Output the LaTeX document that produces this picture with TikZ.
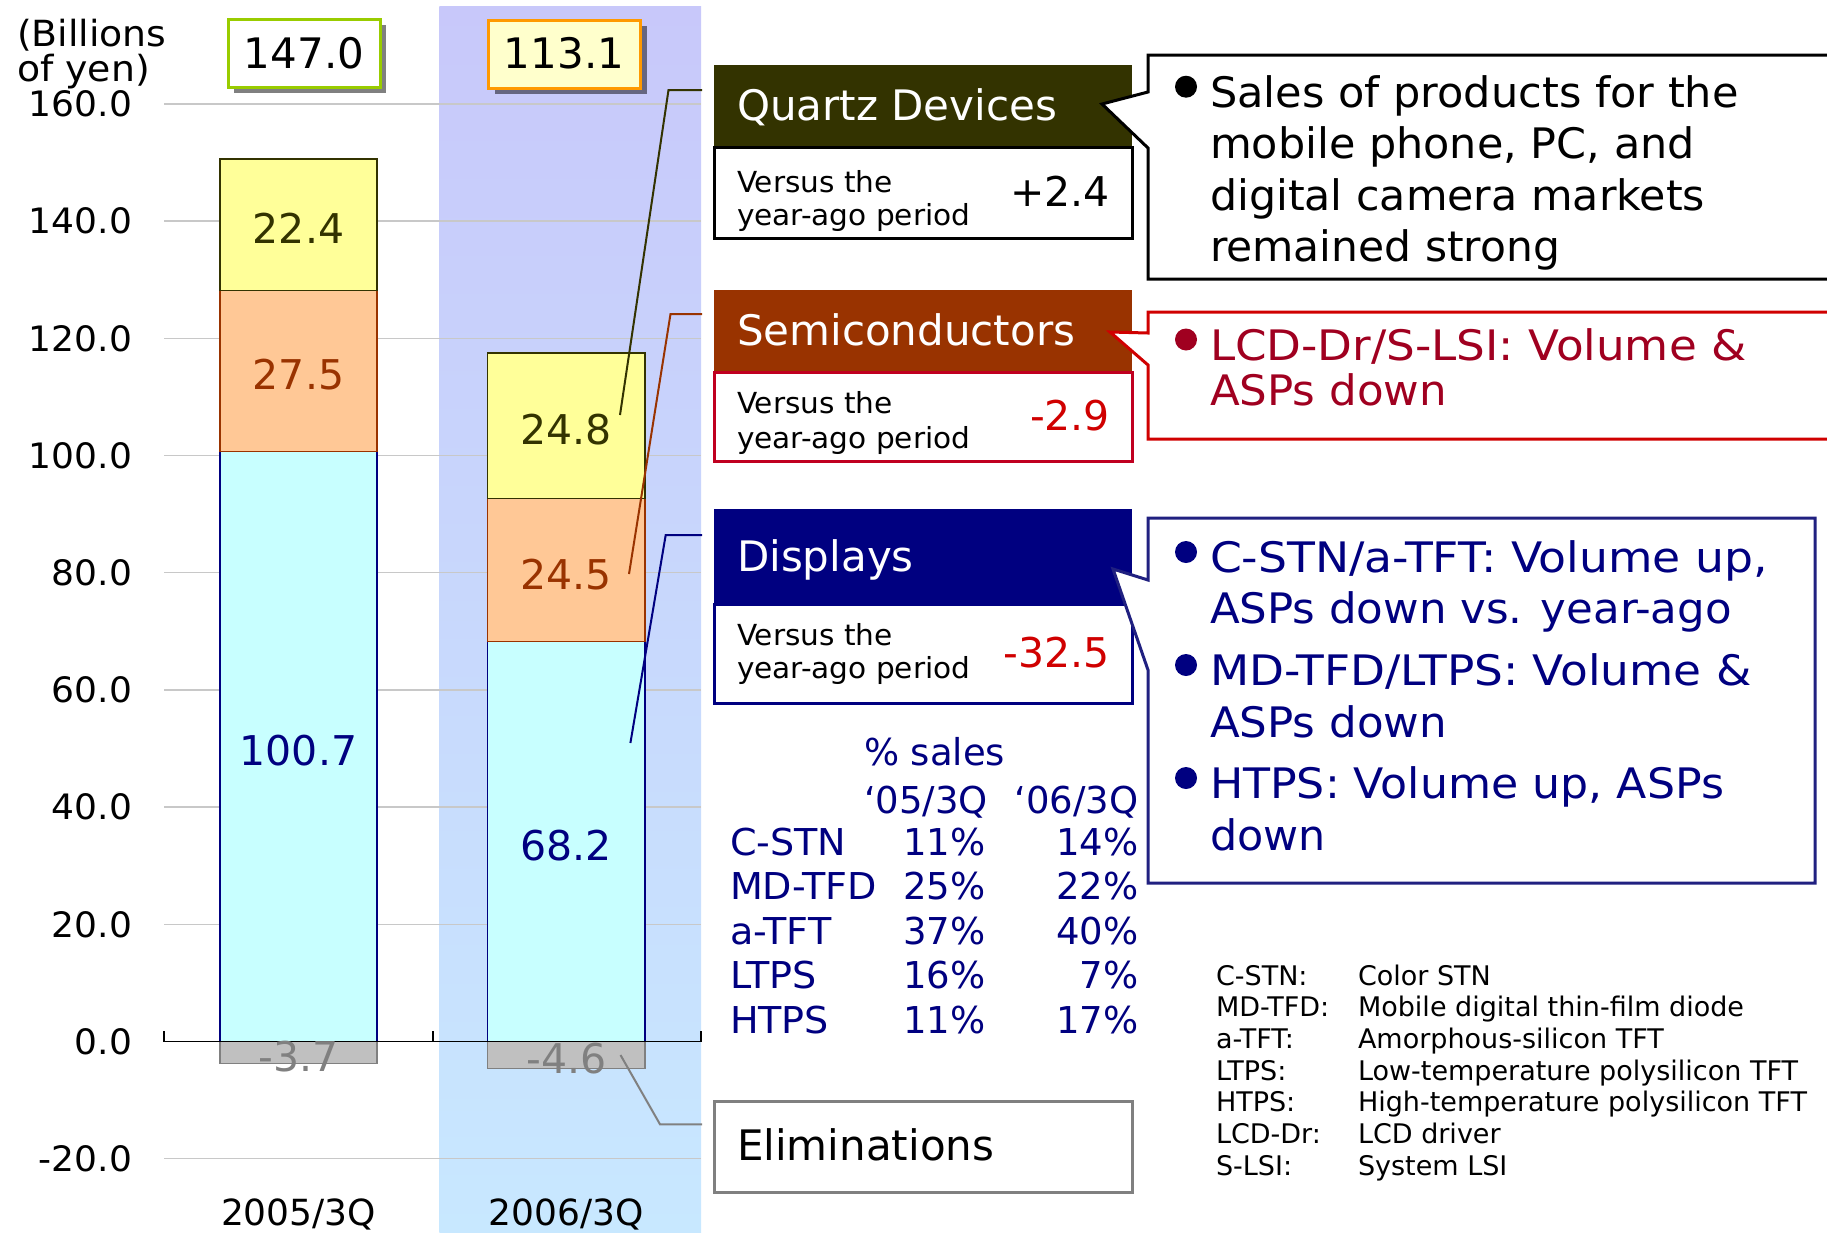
\documentclass[tikz,border=0pt]{standalone}
\usepackage{fontspec}
\usepackage{graphicx}
\setmainfont{DejaVu Sans}
\usetikzlibrary{calc}
\definecolor{quartz}{HTML}{333300}
\definecolor{semi}{HTML}{993300}
\definecolor{disp}{HTML}{000080}
\definecolor{yel}{HTML}{FFFF99}
\definecolor{ora}{HTML}{FFC896}
\definecolor{cya}{HTML}{C8FFFF}
\definecolor{gryfill}{HTML}{C0C0C0}
\definecolor{gryline}{HTML}{808080}
\definecolor{gridc}{HTML}{C8C8C8}
\definecolor{redv}{HTML}{D00000}
\definecolor{lcd}{HTML}{A00020}
\definecolor{semibox}{HTML}{C00020}
\definecolor{calred}{HTML}{D00000}
\definecolor{calblue}{HTML}{202080}
\definecolor{bandtop}{RGB}{200,200,250}
\definecolor{bandbot}{RGB}{200,232,255}
\definecolor{greenb}{HTML}{99CC00}
\definecolor{orangeb}{HTML}{FF9900}
\definecolor{paley}{HTML}{FFFFCC}
\definecolor{shadowa}{HTML}{808080}
\definecolor{shadowb}{HTML}{666680}
\newcommand\fs[1]{\fontsize{#1}{#1}\selectfont}
\newcommand\hwide[2]{\scalebox{#1}[1]{#2}}
\begin{document}
\begin{tikzpicture}[x=1pt,y=-1pt,
  txt/.style={inner sep=0pt,outer sep=0pt},
  gridln/.style={draw=gridc,line width=1.5},
  lead/.style={line width=2},
  barbox/.style={line width=1.2},
  panel/.style={line width=3},
  bul/.style={circle,inner sep=0pt,minimum size=22pt}]
\useasboundingbox (0,0) rectangle (1827,1232);
\fill[white] (0,0) rectangle (1827,1232);
% highlighted band
\shade[top color=bandtop,bottom color=bandbot] (439.4,6.7) rectangle (701,1232);
% gridlines
\foreach \v in {-20,20,40,60,80,100,120,140,160}
  \draw[gridln] (164,{1041.5-5.86*\v}) -- (701,{1041.5-5.86*\v});
% bars 2005/3Q
\draw[barbox,draw=disp,fill=cya] (220,1041.5) rectangle (377,451.4);
\draw[barbox,draw=semi,fill=ora] (220,451.4) rectangle (377,290.2);
\draw[barbox,draw=quartz,fill=yel] (220,290.2) rectangle (377,159.0);
\draw[barbox,draw=gryline,fill=gryfill] (220,1041.5) rectangle (377,1063.2);
% bars 2006/3Q
\draw[barbox,draw=disp,fill=cya] (487.6,1041.5) rectangle (645,641.8);
\draw[barbox,draw=semi,fill=ora] (487.6,641.8) rectangle (645,498.3);
\draw[barbox,draw=quartz,fill=yel] (487.6,498.3) rectangle (645,352.9);
\draw[barbox,draw=gryline,fill=gryfill] (487.6,1041.5) rectangle (645,1068.5);
% axis
\draw[line width=1.5] (164,1041.5) -- (701,1041.5);
\foreach \x in {164,433,701} \draw[line width=1.5] (\x,1041.5) -- (\x,1031);
% y labels
\foreach \v/\t in {160/160.0,140/140.0,120/120.0,100/100.0,80/80.0,60/60.0,40/40.0,20/20.0,0/0.0,-20/-20.0}
  \node[txt,anchor=base east] (yl\v) at (132,{1041.5-5.86*\v+12.7}) {\fs{35}\hwide{1.03}{\t}};
\node[txt,anchor=base west] (unit1) at (17,46.7) {\fs{36}\hwide{1.05}{(Billions}};
\node[txt,anchor=base west] (unit2) at (17,81.7) {\fs{36}\hwide{1.05}{of yen)}};
% bar labels
\node[txt,anchor=base,text=quartz] (v224) at (298.5,243.6) {\fs{41}22.4};
\node[txt,anchor=base,text=semi] (v275) at (298.5,389.8) {\fs{41}27.5};
\node[txt,anchor=base,text=disp] (v1007) at (298.5,765.5) {\fs{41}100.7};
\node[txt,anchor=base,text=gryline] (v37) at (298.5,1071) {\fs{41}-3.7};
\node[txt,anchor=base,text=quartz] (v248) at (566.3,444.6) {\fs{41}24.8};
\node[txt,anchor=base,text=semi] (v245) at (566.3,589) {\fs{41}24.5};
\node[txt,anchor=base,text=disp] (v682) at (566.3,860.7) {\fs{41}68.2};
\node[txt,anchor=base,text=gryline] (v46) at (566.3,1073) {\fs{41}-4.6};
% category labels
\node[txt,anchor=base] (c05) at (298.5,1225) {\fs{36}2005/3Q};
\node[txt,anchor=base] (c06) at (566.3,1225) {\fs{36}2006/3Q};
% total boxes
\fill[shadowa] (234,25) rectangle (386,93);
\draw[line width=3,draw=greenb,fill=white] (228,19.5) rectangle (380,87.5);
\node[txt,anchor=base] (t147) at (304,68.5) {\fs{42}147.0};
\fill[shadowb] (494.5,26) rectangle (646.5,94);
\draw[line width=3,draw=orangeb,fill=paley] (488,20.5) rectangle (640.5,88.3);
\node[txt,anchor=base] (t113) at (564,68.5) {\fs{42}113.1};
% leader lines
\coordinate (qa) at (620,415); \coordinate (qb) at (668.5,90); \coordinate (qc) at (702,90);
\coordinate (sa) at (629,574); \coordinate (sb) at (670.5,314); \coordinate (sc) at (702,314);
\coordinate (da) at (630.4,743); \coordinate (db) at (665.7,535); \coordinate (dc) at (702,535);
\coordinate (ea) at (620.5,1055); \coordinate (eb) at (660,1124.3); \coordinate (ec) at (702,1124.3);
\draw[lead,draw=quartz] (qa) -- (qb) -- (qc);
\draw[lead,draw=semi] (sa) -- (sb) -- (sc);
\draw[lead,draw=disp] (da) -- (db) -- (dc);
\draw[lead,draw=gryline] (ea) -- (eb) -- (ec);
% Quartz panel
\fill[quartz] (714,65) rectangle (1132,147);
\draw[panel,draw=black,fill=white] (714,147) rectangle (1132,238);
\node[txt,anchor=base west,text=white] (qtitle) at (737,120) {\fs{42}Quartz Devices};
\node[txt,anchor=base west] (qv1) at (737,192) {\fs{29}\hwide{1.02}{Versus the}};
\node[txt,anchor=base west] (qv2) at (737,225) {\fs{29}\hwide{1.02}{year-ago period}};
\node[txt,anchor=base east] (qnum) at (1110,206.7) {\fs{41}+2.4};
% Semiconductor panel
\fill[semi] (714,290) rectangle (1132,372);
\draw[panel,draw=semibox,fill=white] (714,372) rectangle (1132,461);
\node[txt,anchor=base west,text=white] (stitle) at (737,345) {\fs{42}Semiconductors};
\node[txt,anchor=base west] (sv1) at (737,413.3) {\fs{29}\hwide{1.02}{Versus the}};
\node[txt,anchor=base west] (sv2) at (737,448.3) {\fs{29}\hwide{1.02}{year-ago period}};
\node[txt,anchor=base east,text=redv] (snum) at (1110,430) {\fs{41}-2.9};
% Displays panel
\fill[disp] (714,509) rectangle (1132,604);
\draw[panel,draw=disp,fill=white] (714,604) rectangle (1132,703);
\node[txt,anchor=base west,text=white] (dtitle) at (737,571) {\fs{42}Displays};
\node[txt,anchor=base west] (dv1) at (737,645) {\fs{29}\hwide{1.02}{Versus the}};
\node[txt,anchor=base west] (dv2) at (737,678) {\fs{29}\hwide{1.02}{year-ago period}};
\node[txt,anchor=base east,text=redv] (dnum) at (1110,667) {\fs{41}-32.5};
% Callout 1
\draw[panel,draw=black,fill=white] (1148,55) -- (1829,55) -- (1829,279) -- (1148,279) -- (1148,148) -- (1102,104) -- (1148,92) -- cycle;
\node[bul,fill=black] (b1) at (1186,86.7) {};
\node[txt,anchor=base west] (c1l1) at (1210,107) {\fs{42}\hwide{1.025}{Sales of products for the}};
\node[txt,anchor=base west] (c1l2) at (1210,158.5) {\fs{42}\hwide{1.022}{mobile phone, PC, and}};
\node[txt,anchor=base west] (c1l3) at (1210,210) {\fs{42}\hwide{1.017}{digital camera markets}};
\node[txt,anchor=base west] (c1l4) at (1210,261.5) {\fs{42}\hwide{1.01}{remained strong}};
% Callout 2
\draw[panel,draw=calred,fill=white] (1148,312) -- (1829,312) -- (1829,439) -- (1148,439) -- (1148,365) -- (1110,332) -- (1148,333) -- cycle;
\node[bul,fill=lcd] (b2) at (1186,339.5) {};
\node[txt,anchor=base west,text=lcd] (c2l1) at (1210,360) {\fs{42}\hwide{1.077}{LCD-Dr/S-LSI: Volume \&}};
\node[txt,anchor=base west,text=lcd] (c2l2) at (1210,405) {\fs{42}\hwide{1.036}{ASPs down}};
% Callout 3
\draw[panel,draw=calblue,fill=white] (1148,518) -- (1815,518) -- (1815,883) -- (1148,883) -- (1148,670) -- (1113,569) -- (1148,580) -- cycle;
\node[bul,fill=disp] (b3) at (1186,552) {};
\node[bul,fill=disp] (b4) at (1186,665) {};
\node[bul,fill=disp] (b5) at (1186,778) {};
\node[txt,anchor=base west,text=disp] (c3l1) at (1210,572) {\fs{42}\hwide{1.087}{C-STN/a-TFT: Volume up,}};
\node[txt,anchor=base west,text=disp] (c3l2) at (1210,623) {\fs{42}\hwide{1.035}{ASPs down vs. year-ago}};
\node[txt,anchor=base west,text=disp] (c3l3) at (1210,685) {\fs{42}\hwide{1.08}{MD-TFD/LTPS: Volume \&}};
\node[txt,anchor=base west,text=disp] (c3l4) at (1210,737) {\fs{42}\hwide{1.036}{ASPs down}};
\node[txt,anchor=base west,text=disp] (c3l5) at (1210,798) {\fs{42}\hwide{1.053}{HTPS: Volume up, ASPs}};
\node[txt,anchor=base west,text=disp] (c3l6) at (1210,850) {\fs{42}\hwide{1.02}{down}};
% sales table
\node[txt,anchor=base west,text=disp] (tsales) at (864,765) {\fs{37}\% sales};
\node[txt,anchor=base west,text=disp] (th05) at (864,813) {\fs{37}`05/3Q};
\node[txt,anchor=base east,text=disp] (th06) at (1138.5,813) {\fs{37}`06/3Q};
\foreach \n/\a/\b/\yy in {C-STN/11/14/855,MD-TFD/25/22/899.5,a-TFT/37/40/944,LTPS/16/7/988.5,HTPS/11/17/1033}{
  \node[txt,anchor=base west,text=disp] (r\n) at (730,\yy) {\fs{37}\hwide{1.03}{\n}};
  \node[txt,anchor=base east,text=disp] (ra\n) at (985.4,\yy) {\fs{37}\a\%};
  \node[txt,anchor=base east,text=disp] (rb\n) at (1138.5,\yy) {\fs{37}\b\%};
}
% Eliminations
\draw[panel,draw=gryline,fill=white] (714,1101) rectangle (1132,1192);
\node[txt,anchor=base west] (elim) at (737,1160) {\fs{42}Eliminations};
% glossary
\foreach \i/\a/\d in {0/C-STN:/Color STN,1/MD-TFD:/Mobile digital thin-film diode,2/a-TFT:/Amorphous-silicon TFT,3/LTPS:/Low-temperature polysilicon TFT,4/HTPS:/High-temperature polysilicon TFT,5/LCD-Dr:/LCD driver,6/S-LSI:/System LSI}{
  \node[txt,anchor=base west] (ga\i) at (1216,{985+31.67*\i}) {\fs{27}\a};
  \node[txt,anchor=base west] (gd\i) at (1358,{985+31.67*\i}) {\fs{27}\d};
}
\end{tikzpicture}
\end{document}
